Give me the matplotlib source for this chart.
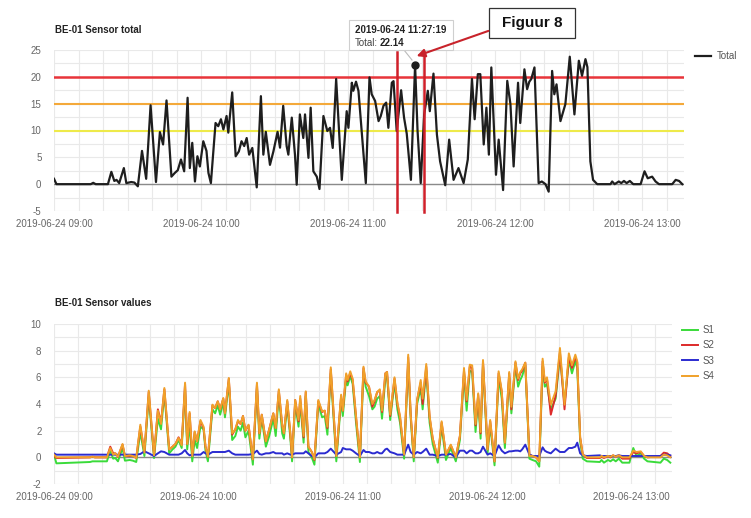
import matplotlib
matplotlib.use('Agg')
import matplotlib.pyplot as plt
import matplotlib.dates as mdates
from matplotlib.patches import Rectangle, FancyArrowPatch
from matplotlib.lines import Line2D
import pandas as pd

plt.rcParams['font.family'] = ['Liberation Sans', 'DejaVu Sans']
plt.rcParams['axes.unicode_minus'] = False

# sample times, minutes after 2019-06-24 09:00 (vertices)
minutes = [0, 1, 15, 16, 17, 22,
           23.4, 24.6, 25.5, 26.6, 28.5, 29.5, 31.5, 32.8, 34.2, 35.9,
           37.6, 39.4, 41.6, 43.2, 44.5, 45.9, 47.9, 49.3, 50.5, 51.8,
           53.1, 54.5, 55.4, 56.4, 57.5, 58.5, 59.5, 60.9, 62.2, 63,
           64, 65.9, 67, 68.1, 69.1, 70.4, 71.1, 72.7, 74.1, 75.4,
           76.5, 77.6, 78.6, 79.6, 80.9, 82.7, 84.4, 85.4, 86.4, 88.1,
           89.5, 91.2, 92.2, 93.5, 94.9, 95.6, 97.0, 98.3, 99.0, 100.3,
           101.7, 102.4, 103.8, 104.7, 105.8, 107.2, 108.3, 109.9, 111.5, 112.6,
           113.7, 115.1, 117.4, 119.4, 120.1, 121.5, 122.1, 123.2, 124.2, 125.6,
           127.2, 128.7, 129.6, 131.0, 132.4, 133.3, 134.4, 135.5, 136.4, 137.8,
           138.5, 139.8, 141.6, 142.8, 143.9, 145.6, 147.3, 148.3, 149.6, 151.0,
           152.5, 153.3, 154.8, 156.2, 157.5, 159.6, 161.2, 163.0, 165.0, 167.1,
           168.8, 170.5, 171.6, 172.9, 173.9, 175.3, 176.4, 177.4, 178.4, 180.3,
           181.4, 183.2, 184.9, 186.2, 187.5, 189.3, 190.2, 191.9, 193.0, 193.9,
           194.7, 196.0, 197.7, 199.0, 200.5, 201.8, 203.2, 204.1, 205.0, 206.6,
           208.6, 210.4, 212.3, 214.1, 215.4, 216.8, 217.6, 218.8, 219.9, 221.6,
           227.0, 227.7, 228.7, 230.4, 231.4, 232.5, 233.6, 234.9, 236.3, 239.3,
           240.9, 242.2, 244.0, 245.4, 246.8, 252.2, 253.6, 255.0, 256.3]

total = [1.0, 0, 0, 0.25, 0, 0,
         2.3, 0.6, 0.8, 0.2, 3.0, 0.2, 0.4, 0.3, -0.4, 6.2,
         1.0, 14.7, 0.4, 9.7, 7.4, 15.6, 1.4, 2.1, 2.6, 4.6,
         2.4, 16.1, 3.0, 7.7, 0.5, 5.2, 3.3, 8.0, 6.2, 2.1,
         0.2, 11.4, 10.8, 12.1, 10.2, 12.7, 9.6, 17.1, 5.2, 6.1,
         8.0, 7.1, 8.6, 5.5, 6.75, -0.6, 16.4, 5.5, 9.75, 3.6,
         6.1, 9.75, 6.8, 14.6, 7.1, 5.5, 12.4, 5.5, -0.1, 13.0,
         8.6, 13.0, 4.9, 14.25, 2.4, 1.4, -0.9, 12.7, 9.9, 10.5,
         6.75, 19.6, 0.8, 13.6, 10.5, 18.9, 17.4, 19.1, 17.4, 9.25,
         0.2, 19.9, 16.75, 15.5, 11.75, 12.7, 14.6, 15.2, 10.5, 18.9,
         19.2, 9.9, 17.5, 12.4, 9.4, 0.8, 22.14, 10.0, 0.2, 13.0,
         17.4, 13.6, 20.6, 9.25, 4.25, -0.2, 8.3, 0.8, 3.0, 0.2,
         4.6, 19.6, 12.1, 20.5, 20.5, 7.4, 14.25, 5.5, 21.75, 1.75,
         8.3, -1.1, 19.25, 14.9, 3.3, 18.9, 11.4, 21.4, 17.7, 19.1,
         19.6, 21.75, 0.2, 0.5, 0.0, -1.4, 21.1, 16.75, 18.6, 11.75,
         14.9, 23.75, 13.0, 23.0, 20.2, 23.3, 21.8, 4.25, 0.8, 0.0,
         0.0, 0.5, 0.0, 0.5, 0.2, 0.6, 0.2, 0.6, 0.0, 0.0,
         2.4, 1.1, 1.4, 0.5, 0.0, 0.0, 0.8, 0.6, 0.0]

s1 = [0.2, -0.45, -0.35, -0.3, -0.3, -0.3,
      0.5, -0.1, -0.05, -0.3, 0.7, -0.25, -0.2, -0.25, -0.35, 1.9,
      0.1, 4.5, -0.05, 2.9, 2.1, 4.8, 0.3, 0.6, 0.8, 1.3,
      0.7, 5.1, 0.6, 2.5, -0.3, 1.3, 0.7, 2.3, 2.1, 0.5,
      -0.3, 3.6, 3.3, 3.9, 3.2, 4.1, 3.0, 5.6, 1.3, 1.6,
      2.3, 2.0, 2.6, 1.5, 2.0, -0.55, 5.2, 1.4, 2.9, 0.8,
      1.6, 2.9, 1.6, 4.7, 1.8, 1.4, 3.9, 1.4, -0.3, 4.0,
      2.3, 4.1, 1.1, 4.6, 0.4, 0.0, -0.55, 4.0, 3.0, 3.1,
      1.7, 6.3, -0.3, 4.3, 3.1, 5.9, 5.4, 6.1, 5.5, 2.6,
      -0.35, 6.4, 5.3, 4.6, 3.6, 3.8, 4.4, 4.6, 2.9, 5.9,
      6.1, 2.8, 5.6, 3.6, 2.6, -0.1, 7.1, 3.0, -0.3, 4.0,
      5.2, 3.6, 6.5, 2.6, 1.0, -0.4, 2.3, -0.2, 0.7, -0.3,
      1.3, 6.2, 3.5, 6.5, 6.4, 1.9, 4.4, 1.4, 6.9, 0.3,
      2.4, -0.6, 6.0, 4.4, 0.7, 6.0, 3.3, 6.9, 5.3, 5.8,
      6.1, 6.9, -0.1, -0.2, -0.3, -0.7, 6.8, 5.3, 5.5, 3.6,
      4.4, 7.6, 4.0, 7.3, 6.3, 7.2, 6.7, 1.2, -0.1, -0.3,
      -0.35, -0.2, -0.4, -0.2, -0.3, -0.15, -0.3, -0.1, -0.4, -0.4,
      0.7, 0.1, 0.3, -0.1, -0.3, -0.4, -0.1, -0.2, -0.4]

s2 = [0.1, -0.05, 0.0, 0.05, 0, 0,
      0.8, 0.3, 0.3, 0.05, 0.95, 0.1, 0.1, 0.1, -0.05, 2.3,
      0.4, 4.9, 0.15, 3.6, 2.6, 5.1, 0.6, 0.8, 1.0, 1.5,
      1.0, 5.5, 1.0, 3.3, 0.1, 1.9, 1.2, 2.7, 2.2, 0.8,
      0.05, 3.9, 3.7, 4.2, 3.6, 4.4, 3.3, 5.9, 1.7, 2.1,
      2.7, 2.5, 3.1, 2.0, 2.4, -0.15, 5.5, 1.8, 3.2, 1.2,
      2.1, 3.3, 2.2, 5.0, 2.4, 1.8, 4.2, 1.7, 0.0, 4.3,
      2.7, 4.4, 1.5, 4.9, 0.8, 0.4, -0.2, 4.2, 3.4, 3.5,
      2.2, 6.6, 0.1, 4.6, 3.5, 6.2, 5.7, 6.3, 5.8, 3.0,
      0.0, 6.7, 5.6, 5.3, 3.8, 4.2, 4.9, 5.0, 3.4, 6.3,
      6.4, 3.1, 5.9, 4.0, 3.0, 0.2, 7.5, 3.3, 0.0, 4.3,
      5.6, 4.0, 6.8, 3.0, 1.4, -0.05, 2.6, 0.2, 0.9, 0.0,
      1.6, 6.5, 4.2, 6.8, 6.7, 2.4, 4.7, 1.8, 7.2, 0.6,
      2.7, -0.3, 6.3, 4.9, 1.1, 6.3, 3.6, 7.1, 5.8, 6.3,
      6.5, 7.1, 0.2, 0.1, 0.0, -0.3, 7.2, 5.6, 5.9, 3.2,
      4.6, 7.9, 3.6, 7.5, 6.7, 7.5, 7.1, 1.5, 0.2, -0.05,
      -0.05, 0.05, -0.05, 0.1, 0.0, 0.15, 0.05, 0.15, -0.1, -0.1,
      0.4, 0.3, 0.4, 0.1, 0.0, 0.1, 0.35, 0.3, 0.1]

s3 = [0.3, 0.2, 0.2, 0.2, 0.2, 0.2,
      0.2, 0.2, 0.2, 0.2, 0.2, 0.2, 0.2, 0.2, 0.2, 0.25,
      0.45, 0.3, 0.1, 0.3, 0.45, 0.4, 0.2, 0.2, 0.2, 0.2,
      0.3, 0.55, 0.3, 0.15, 0.2, 0.2, 0.2, 0.2, 0.4, 0.3,
      0.2, 0.4, 0.4, 0.4, 0.4, 0.4, 0.4, 0.5, 0.3, 0.2,
      0.2, 0.2, 0.2, 0.2, 0.2, 0.25, 0.5, 0.25, 0.2, 0.3,
      0.3, 0.4, 0.3, 0.3, 0.3, 0.2, 0.3, 0.2, 0.2, 0.3,
      0.3, 0.3, 0.3, 0.45, 0.3, 0.1, 0.0, 0.3, 0.3, 0.3,
      0.4, 0.65, 0.2, 0.4, 0.7, 0.6, 0.6, 0.6, 0.5, 0.3,
      0.1, 0.55, 0.4, 0.4, 0.3, 0.3, 0.4, 0.3, 0.3, 0.6,
      0.65, 0.4, 0.3, 0.2, 0.2, 0.2, 0.95, 0.4, 0.2, 0.4,
      0.3, 0.4, 0.65, 0.2, 0.2, 0.1, 0.2, 0.2, 0.25, 0.0,
      0.5, 0.5, 0.3, 0.5, 0.5, 0.3, 0.3, 0.4, 0.8, 0.2,
      0.3, 0.1, 0.9, 0.5, 0.3, 0.45, 0.45, 0.5, 0.5, 0.45,
      0.6, 0.95, 0.2, 0.1, 0.1, 0.1, 0.75, 0.5, 0.4, 0.3,
      0.65, 0.4, 0.4, 0.7, 0.7, 0.8, 1.1, 0.3, 0.15, 0.1,
      0.15, 0.1, 0.1, 0.1, 0.1, 0.1, 0.1, 0.15, 0.1, 0.1,
      0.1, 0.1, 0.1, 0.1, 0.1, 0.1, 0.2, 0.2, 0.15]

s4 = [0.2, 0.0, 0.0, 0.05, 0, 0,
      0.7, 0.2, 0.3, 0.05, 1.0, 0.1, 0.15, 0.1, -0.05, 2.45,
      0.35, 5.0, 0.15, 3.5, 2.5, 5.2, 0.6, 0.8, 1.0, 1.45,
      0.9, 5.6, 1.0, 3.4, 0.1, 1.95, 1.2, 2.8, 2.3, 0.8,
      0.05, 3.95, 3.7, 4.2, 3.6, 4.45, 3.3, 5.95, 1.8, 2.1,
      2.8, 2.5, 3.1, 2.0, 2.45, -0.15, 5.6, 1.8, 3.2, 1.2,
      2.1, 3.3, 2.2, 5.1, 2.4, 1.8, 4.3, 1.8, 0.0, 4.3,
      2.8, 4.6, 1.6, 4.95, 0.8, 0.4, -0.15, 4.3, 3.45, 3.5,
      2.3, 6.75, 0.1, 4.7, 3.5, 6.3, 5.8, 6.45, 5.9, 3.1,
      0.0, 6.8, 5.7, 5.3, 4.0, 4.3, 4.9, 5.1, 3.5, 6.3,
      6.4, 3.2, 6.0, 4.1, 3.1, 0.2, 7.7, 3.3, 0.0, 4.3,
      5.8, 4.4, 7.0, 3.1, 1.4, 0.0, 2.7, 0.2, 0.95, 0.0,
      1.6, 6.7, 4.3, 6.95, 6.9, 2.5, 4.8, 1.9, 7.3, 0.6,
      2.8, -0.3, 6.45, 5.0, 1.1, 6.4, 3.8, 7.2, 5.9, 6.4,
      6.6, 7.1, 0.1, 0.1, 0.0, -0.3, 7.4, 5.7, 6.0, 3.95,
      4.95, 8.2, 3.95, 7.8, 6.9, 7.7, 7.2, 1.5, 0.2, 0.0,
      0.0, 0.1, 0.0, 0.1, 0.05, 0.15, 0.05, 0.15, 0.0, 0.0,
      0.5, 0.4, 0.45, 0.1, 0.0, 0.0, 0.2, 0.15, 0.0]

thresholds = [20, 15, 10]
threshold_colors = ['#e8343a', '#f4a93a', '#eeea4a']

# annotation: hovered point and the two marker lines
hover_time = '2019-06-24 11:27:19'
hover_value = 22.14
marker_minutes = [140.0, 151.0]

start = pd.Timestamp('2019-06-24 09:00')
times = start + pd.to_timedelta(minutes, unit='min')
x_end = start + pd.Timedelta(minutes=257)


def fx(px):
    return px / 751


def fy(py):
    return 1 - py / 518


def style_axes(ax, ymin, ymax, ymajor, yminor):
    ax.set_xlim(start, x_end)
    ax.set_ylim(ymin, ymax)
    ax.set_yticks([ymin + i * ymajor for i in range(int((ymax - ymin) / ymajor) + 1)])
    ax.set_yticks([ymin + i * yminor for i in range(int((ymax - ymin) / yminor) + 1)], minor=True)
    ax.xaxis.set_major_locator(mdates.HourLocator())
    ax.xaxis.set_minor_locator(mdates.MinuteLocator(byminute=[10, 20, 30, 40, 50]))
    ax.xaxis.set_major_formatter(mdates.DateFormatter('%Y-%m-%d %H:%M'))
    ax.grid(True, which='both', color='#e9e9e9', linewidth=0.8)
    ax.set_axisbelow(True)
    for sp in ax.spines.values():
        sp.set_visible(False)
    ax.tick_params(which='both', length=0, labelsize=7, labelcolor='#666666')
    ax.tick_params(axis='y', pad=9)
    ax.tick_params(axis='x', pad=6)
    ax.axhline(0, color='#8a8a8a', linewidth=1.0, zorder=1)


fig = plt.figure(figsize=(7.51, 5.18), dpi=100)

# ---- top: total ----
ax1 = fig.add_axes([fx(54), fy(211), fx(684) - fx(54), fy(50) - fy(211)])
style_axes(ax1, -5, 25, 5, 2.5)
for val, col in zip(thresholds, threshold_colors):
    ax1.axhline(val, color=col, linewidth=1.8 if val == 20 else 1.5, zorder=2)
ax1.plot(times, total, color='#1e1e1e', linewidth=1.6, zorder=3, label='Total')
ax1.plot([pd.Timestamp(hover_time)], [hover_value], 'o', color='#1e1e1e',
         markersize=5, zorder=4)
for m in marker_minutes:
    t = start + pd.Timedelta(minutes=m)
    ax1.plot([t, t], [24.6, -5.2], color='#d0202a', linewidth=1.8, zorder=5,
             clip_on=False)
fig.text(fx(55), fy(30), 'BE-01 Sensor total', fontsize=7, fontweight='bold',
         color='#222222', va='center')
ax1.legend(loc='upper left', bbox_to_anchor=(fx(695), fy(51)),
           bbox_transform=fig.transFigure, frameon=False, fontsize=7,
           handlelength=1.6, handletextpad=0.6, borderaxespad=0, borderpad=0,
           labelcolor='#555555')

# tooltip
fig.patches.append(Rectangle((fx(349), fy(50)), fx(453) - fx(349), fy(20) - fy(50),
                             transform=fig.transFigure, facecolor='white',
                             edgecolor='#cfcfcf', linewidth=0.8, zorder=6))
fig.text(fx(355), fy(30), hover_time, fontsize=7, fontweight='bold',
         color='#222222', va='center', zorder=7)
fig.text(fx(355), fy(43), 'Total:', fontsize=7, color='#444444', va='center', zorder=7)
fig.text(fx(380), fy(43), '%.2f' % hover_value, fontsize=7, fontweight='bold',
         color='#222222', va='center', zorder=7)
fig.lines.append(Line2D([fx(404), fx(412)], [fy(50), fy(60)], transform=fig.transFigure,
                        color='#bbbbbb', linewidth=0.8))

# "Figuur 8" callout
fig.patches.append(Rectangle((fx(489), fy(38)), fx(575) - fx(489), fy(8) - fy(38),
                             transform=fig.transFigure, facecolor='white',
                             edgecolor='#333333', linewidth=0.9, zorder=6))
fig.text(fx(532), fy(23), 'Figuur 8', fontsize=11, fontweight='bold',
         color='#111111', ha='center', va='center', zorder=7)
fig.patches.append(FancyArrowPatch((fx(491), fy(30)), (fx(414), fy(57)),
                                   transform=fig.transFigure, arrowstyle='-|>',
                                   mutation_scale=12, color='#c8232b',
                                   linewidth=1.5, zorder=7))

# ---- bottom: sensor values ----
ax2 = fig.add_axes([fx(54), fy(484), fx(672) - fx(54), fy(324) - fy(484)])
style_axes(ax2, -2, 10, 2, 1)
ax2.plot(times, s1, color='#3adb3a', linewidth=1.4, zorder=3, label='S1')
ax2.plot(times, s2, color='#dd2a2a', linewidth=1.4, zorder=3, label='S2')
ax2.plot(times, s3, color='#2b2bd0', linewidth=1.4, zorder=3, label='S3')
ax2.plot(times, s4, color='#f0a12a', linewidth=1.4, zorder=4, label='S4')
fig.text(fx(55), fy(303), 'BE-01 Sensor values', fontsize=7, fontweight='bold',
         color='#222222', va='center')
ax2.legend(loc='upper left', bbox_to_anchor=(fx(682), fy(325)),
           bbox_transform=fig.transFigure, frameon=False, fontsize=7,
           handlelength=1.6, handletextpad=0.5, borderaxespad=0, borderpad=0,
           labelspacing=0.55, labelcolor='#555555')

fig.savefig('out.png', dpi=100, facecolor='white')
